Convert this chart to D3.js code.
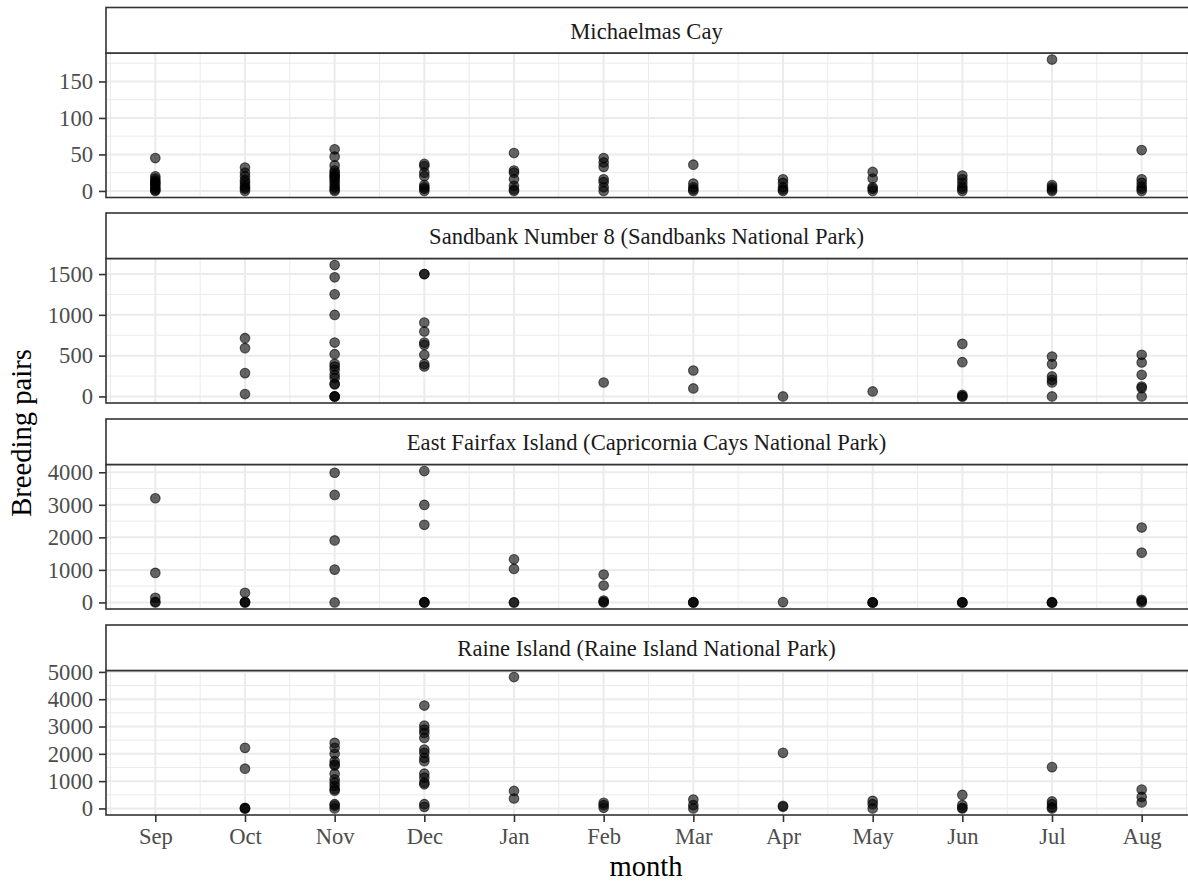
<!DOCTYPE html>
<meta charset="utf-8">
<head>
<script src="https://d3js.org/d3.v7.min.js"></script>
<style>
  body { margin: 0; background: #fff; }
  svg text { font-family: "Liberation Serif", "Times New Roman", serif !important; }
</style>
</head>
<body>
<script>
"use strict";
var months = ["Sep", "Oct", "Nov", "Dec", "Jan", "Feb", "Mar", "Apr", "May", "Jun", "Jul", "Aug"];
var sites = [
  "Michaelmas Cay",
  "Sandbank Number 8 (Sandbanks National Park)",
  "East Fairfax Island (Capricornia Cays National Park)",
  "Raine Island (Raine Island National Park)"
];

// breeding pairs per month (Sep..Aug), one array per site
var michaelmas = [
  [45, 20, 17, 14, 12, 10, 8, 5, 3, 1, 0],
  [32, 25, 20, 15, 12, 8, 5, 3, 0],
  [57, 47, 35, 28, 25, 22, 20, 18, 15, 12, 8, 5, 2, 0],
  [37, 34, 25, 20, 8, 5, 3, 0],
  [52, 28, 25, 16, 7, 2, 0],
  [45, 39, 33, 16, 12, 5, 0],
  [36, 10, 5, 2, 0],
  [16, 11, 5, 2, 0],
  [26, 17, 5, 3, 0],
  [21, 16, 11, 6, 3, 0],
  [180, 8, 5, 2, 0],
  [56, 16, 11, 6, 3, 0]
];
var sandbank = [
  [],
  [714, 592, 286, 29],
  [1610, 1460, 1252, 999, 660, 518, 400, 367, 326, 265, 225, 151, 150, 0, 0, 0],
  [1500, 1500, 905, 795, 660, 632, 510, 396, 367],
  [],
  [171],
  [318, 98],
  [0],
  [61],
  [644, 420, 20, 0, 0],
  [489, 396, 245, 204, 171, 0],
  [510, 416, 265, 122, 102, 0]
];
var fairfax = [
  [3202, 908, 144, 20, 0],
  [297, 20, 0, 0],
  [3985, 3303, 1905, 1009, 0],
  [4037, 2997, 2385, 10, 0, 0],
  [1325, 1030, 0, 0],
  [856, 520, 60, 20, 0],
  [10, 0, 0],
  [10],
  [0, 0, 0],
  [0, 0, 0],
  [0, 0, 0],
  [2303, 1529, 80, 40, 0]
];
var raine = [
  [],
  [2218, 1455, 20, 0, 0],
  [2400, 2218, 2000, 1731, 1611, 1570, 1273, 1065, 945, 822, 702, 650, 156, 100, 0],
  [3768, 3030, 2885, 2764, 2582, 2156, 2036, 1855, 1731, 1273, 1127, 945, 884, 156, 58],
  [4811, 640, 364],
  [204, 120, 22],
  [327, 120, 0],
  [2036, 95, 60],
  [276, 156, 0],
  [495, 120, 22, 0],
  [1513, 255, 156, 40, 0],
  [691, 422, 218]
];
var siteValues = [michaelmas, sandbank, fairfax, raine];
var yTicks = [
  [0, 50, 100, 150],
  [0, 500, 1000, 1500],
  [0, 1000, 2000, 3000, 4000],
  [0, 1000, 2000, 3000, 4000, 5000]
];

var width = 1188, height = 883;
var left = 106, right = 1191;
var stripTops = [7.5, 213, 419, 625];
var stripH = 45.5, panelH = 144.5;
var serif = "Liberation Serif, Times New Roman, serif";

var svg = d3.select("body").append("svg")
  .attr("width", width)
  .attr("height", height);

var x = d3.scaleLinear().domain([0.45, 12.55]).range([left, right]);

sites.forEach(function(site, i) {
  var top = stripTops[i] + stripH;
  var bottom = top + panelH;
  var vals = siteValues[i];
  var maxV = d3.max(vals, function(m) { return m.length ? d3.max(m) : 0; });
  var y = d3.scaleLinear().domain([-0.05 * maxV, 1.05 * maxV]).range([bottom, top]);
  var g = svg.append("g");
  var ticks = yTicks[i];
  var step = ticks[1] - ticks[0];
  var minorY = d3.range(ticks[0] - step / 2, y.domain()[1], step).filter(function(v) {
    return v > y.domain()[0] && v < y.domain()[1];
  });
  var minorX = d3.range(0.5, 12.6, 1);

  g.append("rect").attr("x", left).attr("y", top)
    .attr("width", right - left).attr("height", panelH).attr("fill", "#fff");

  g.selectAll(".ymin").data(minorY).enter().append("line")
    .attr("x1", left).attr("x2", right)
    .attr("y1", function(d) { return y(d); }).attr("y2", function(d) { return y(d); })
    .attr("stroke", "#ebebeb").attr("stroke-width", 1);
  g.selectAll(".xmin").data(minorX).enter().append("line")
    .attr("y1", top).attr("y2", bottom)
    .attr("x1", function(d) { return x(d); }).attr("x2", function(d) { return x(d); })
    .attr("stroke", "#ebebeb").attr("stroke-width", 1);
  g.selectAll(".ymaj").data(ticks).enter().append("line")
    .attr("x1", left).attr("x2", right)
    .attr("y1", function(d) { return y(d); }).attr("y2", function(d) { return y(d); })
    .attr("stroke", "#ebebeb").attr("stroke-width", 2);
  g.selectAll(".xmaj").data(months).enter().append("line")
    .attr("y1", top).attr("y2", bottom)
    .attr("x1", function(d, j) { return x(j + 1); }).attr("x2", function(d, j) { return x(j + 1); })
    .attr("stroke", "#ebebeb").attr("stroke-width", 2);

  // points
  var pts = [];
  vals.forEach(function(m, j) { m.forEach(function(v) { pts.push([j + 1, v]); }); });
  g.selectAll("circle").data(pts).enter().append("circle")
    .attr("cx", function(d) { return x(d[0]); })
    .attr("cy", function(d) { return y(d[1]); })
    .attr("r", 4.8)
    .attr("fill", "#000").attr("fill-opacity", 0.6)
    .attr("stroke", "#000").attr("stroke-opacity", 0.6).attr("stroke-width", 1.1);

  // panel border
  g.append("rect").attr("x", left).attr("y", top)
    .attr("width", right - left).attr("height", panelH)
    .attr("fill", "none").attr("stroke", "#333").attr("stroke-width", 1.6);

  // strip
  g.append("rect").attr("x", left).attr("y", stripTops[i])
    .attr("width", right - left).attr("height", stripH)
    .attr("fill", "#fff").attr("stroke", "#333").attr("stroke-width", 1.6);
  g.append("text")
    .attr("x", (left + 1186) / 2 + 0.5).attr("y", stripTops[i] + 31)
    .attr("text-anchor", "middle").attr("fill", "#1a1a1a")
    .attr("font-family", serif)
    .style("font-size", "22.6px").text(site);

  // y axis
  var ax = g.append("g").attr("transform", "translate(" + left + ",0)")
    .call(d3.axisLeft(y).tickValues(ticks).tickSize(7).tickPadding(6).tickFormat(d3.format("d")));
  ax.attr("font-family", serif).attr("font-size", 22.6);
  ax.select(".domain").remove();
  ax.selectAll(".tick line").attr("stroke", "#333").attr("stroke-width", 1.6);
  ax.selectAll(".tick text").attr("fill", "#4d4d4d");

  if (i === sites.length - 1) {
    var bx = g.append("g").attr("transform", "translate(0," + bottom + ")")
      .call(d3.axisBottom(x).tickValues(d3.range(1, 13)).tickSize(7).tickPadding(6)
        .tickFormat(function(d) { return months[d - 1]; }));
    bx.attr("font-family", serif).attr("font-size", 22.6);
    bx.select(".domain").remove();
    bx.selectAll(".tick line").attr("stroke", "#333").attr("stroke-width", 1.6);
    bx.selectAll(".tick text").attr("fill", "#4d4d4d");
  }
});

svg.append("text")
  .attr("x", 646).attr("y", 876)
  .attr("text-anchor", "middle").attr("fill", "#000")
  .attr("font-family", serif)
  .style("font-size", "28.6px").text("month");

svg.append("text")
  .attr("transform", "translate(31,433) rotate(-90)")
  .attr("text-anchor", "middle").attr("fill", "#000")
  .attr("font-family", serif)
  .style("font-size", "28.6px").text("Breeding pairs");
</script>
</body>
